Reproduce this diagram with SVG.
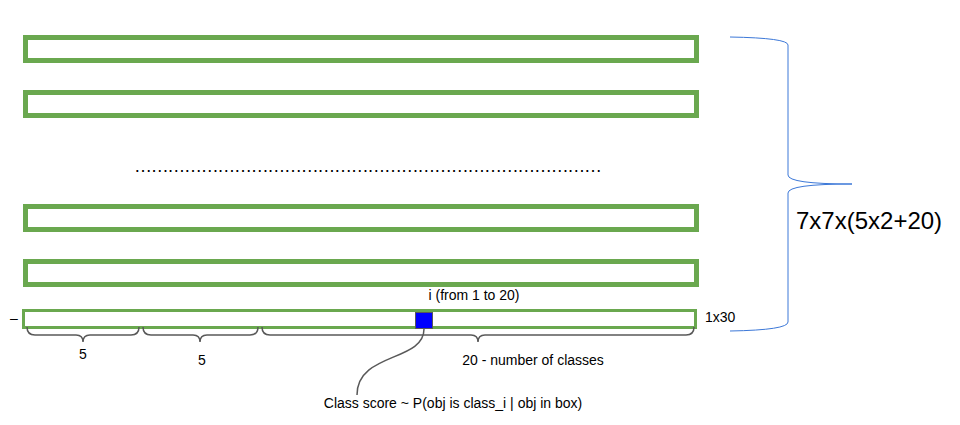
<svg xmlns="http://www.w3.org/2000/svg" width="960" height="425" viewBox="0 0 960 425">
<style>
.row{fill:none;stroke:#6aa84f;stroke-width:5}
.t{font-family:"Liberation Sans",Arial,sans-serif;fill:#000}
.brace{fill:none;stroke:#595959;stroke-width:1.5}
</style>
<rect width="960" height="425" fill="#fff"/>
<g id="row1"><rect class="row" x="25.5" y="37.5" width="671" height="23"/></g>
<g id="row2"><rect class="row" x="25.5" y="92.5" width="671" height="23"/></g>
<g id="dots"><text class="t" x="134" y="172" font-size="18" textLength="468" lengthAdjust="spacing">…………………………………………………………………………</text></g>
<g id="row3"><rect class="row" x="25.5" y="206.5" width="671" height="23"/></g>
<g id="row4"><rect class="row" x="25.5" y="261.5" width="671" height="23"/></g>
<g id="vector">
<rect x="23.5" y="310.5" width="672" height="17" fill="none" stroke="#6aa84f" stroke-width="3"/>
<text class="t" x="10" y="323" font-size="14">–</text>
<text class="t" x="705" y="322" font-size="14">1x30</text>
<text class="t" x="474" y="300" font-size="14" text-anchor="middle">i (from 1 to 20)</text>
</g>
<g id="classcell"><rect x="415.5" y="312.5" width="17" height="16" fill="#0000ff" stroke="#595959" stroke-width="1"/></g>
<g id="connectors">
<path class="brace" d="M27,327 Q27,335 35,335 L76,335 Q83,335 83,342 Q83,335 90,335 L131,335 Q139,335 139,327"/>
<path class="brace" d="M143,327 Q143,335 151,335 L193,335 Q200,335 200,342 Q200,335 207,335 L250,335 Q258,335 258,327"/>
<path class="brace" d="M262,327 Q262,335 270,335 L471,335 Q478,335 478,342 Q478,335 485,335 L686,335 Q694,335 694,327"/>
<path d="M424,329 C424,362 357,352 357,395" fill="none" stroke="#595959" stroke-width="1.5"/>
<path d="M730,37 Q788,38 788,45 L788,175 Q788,184 852,184 Q788,184 788,193 L788,322 Q788,330 730,331" fill="none" stroke="#3c78d8" stroke-width="1"/>
</g>
<g id="labels">
<text class="t" x="83" y="359" font-size="14" text-anchor="middle">5</text>
<text class="t" x="202" y="365" font-size="14" text-anchor="middle">5</text>
<text class="t" x="533" y="365" font-size="14" text-anchor="middle">20 - number of classes</text>
<text class="t" x="453" y="408" font-size="14" text-anchor="middle">Class score ~ P(obj is class_i | obj in box)</text>
<text class="t" x="796" y="229" font-size="24">7x7x(5x2+20)</text>
</g>
</svg>
